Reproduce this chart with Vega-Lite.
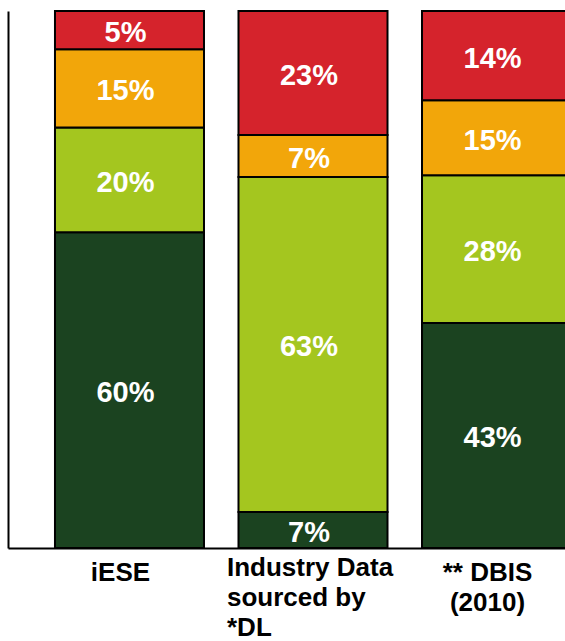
{
  "$schema": "https://vega.github.io/schema/vega-lite/v6.json",
  "width": 610,
  "height": 537,
  "autosize": {"type": "none"},
  "padding": {"left": 8, "top": 11, "right": 0, "bottom": 93},
  "background": "white",
  "config": {"view": {"stroke": null}},
  "data": {
    "values": [
      {"source": "iESE", "level": 1, "band": "dark", "share": 58.8, "label": "60%"},
      {"source": "iESE", "level": 2, "band": "light", "share": 19.5, "label": "20%"},
      {"source": "iESE", "level": 3, "band": "amber", "share": 14.6, "label": "15%"},
      {"source": "iESE", "level": 4, "band": "red", "share": 7.1, "label": "5%"},
      {"source": "Industry Data|sourced by|*DL", "level": 1, "band": "dark", "share": 6.7, "label": "7%"},
      {"source": "Industry Data|sourced by|*DL", "level": 2, "band": "light", "share": 62.4, "label": "63%"},
      {"source": "Industry Data|sourced by|*DL", "level": 3, "band": "amber", "share": 7.8, "label": "7%"},
      {"source": "Industry Data|sourced by|*DL", "level": 4, "band": "red", "share": 23.1, "label": "23%"},
      {"source": "** DBIS|(2010)", "level": 1, "band": "dark", "share": 41.9, "label": "43%"},
      {"source": "** DBIS|(2010)", "level": 2, "band": "light", "share": 27.5, "label": "28%"},
      {"source": "** DBIS|(2010)", "level": 3, "band": "amber", "share": 14.0, "label": "15%"},
      {"source": "** DBIS|(2010)", "level": 4, "band": "red", "share": 16.6, "label": "14%"}
    ]
  },
  "transform": [
    {"stack": "share", "groupby": ["source"], "sort": [{"field": "level", "order": "ascending"}], "as": ["y0", "y1"]},
    {"calculate": "(datum.y0 + datum.y1) / 2", "as": "ymid"}
  ],
  "encoding": {
    "x": {
      "field": "source",
      "type": "nominal",
      "sort": null,
      "scale": {"paddingInner": 0.188, "paddingOuter": 0.256},
      "axis": {
        "title": null,
        "domain": true,
        "domainColor": "black",
        "domainWidth": 2,
        "ticks": false,
        "grid": false,
        "labelExpr": "split(datum.label, '|')",
        "labelFont": "Liberation Sans",
        "labelFontWeight": "bold",
        "labelFontSize": 26,
        "labelColor": "black",
        "labelLineHeight": 30,
        "labelBaseline": "top",
        "labelAngle": 0,
        "labelLimit": 1000,
        "labelOverlap": false,
        "labelFlush": false,
        "labelAlign": {"condition": {"test": "indexof(datum.value, 'Industry') == 0", "value": "left"}, "value": "center"},
        "labelOffset": {"condition": {"test": "indexof(datum.value, 'Industry') == 0", "value": -86}, "value": -9},
        "labelPadding": {"condition": {"test": "indexof(datum.value, 'Industry') == 0", "value": 6}, "value": 11}
      }
    }
  },
  "layer": [
    {
      "mark": {"type": "bar", "stroke": "black", "strokeWidth": 2},
      "encoding": {
        "y": {
          "field": "y0",
          "type": "quantitative",
          "scale": {"domain": [0, 100], "nice": false},
          "axis": {"title": null, "domain": true, "domainColor": "black", "domainWidth": 2, "ticks": false, "labels": false, "grid": false}
        },
        "y2": {"field": "y1"},
        "color": {
          "field": "band",
          "type": "nominal",
          "legend": null,
          "scale": {"domain": ["dark", "light", "amber", "red"], "range": ["#1b4320", "#a4c61f", "#f2a60a", "#d5232c"]}
        }
      }
    },
    {
      "mark": {"type": "text", "font": "Liberation Sans", "fontWeight": "bold", "fontSize": 29, "color": "white", "align": "center", "baseline": "middle", "dx": -4, "dy": 3},
      "encoding": {
        "y": {"field": "ymid", "type": "quantitative"},
        "text": {"field": "label"}
      }
    }
  ]
}
